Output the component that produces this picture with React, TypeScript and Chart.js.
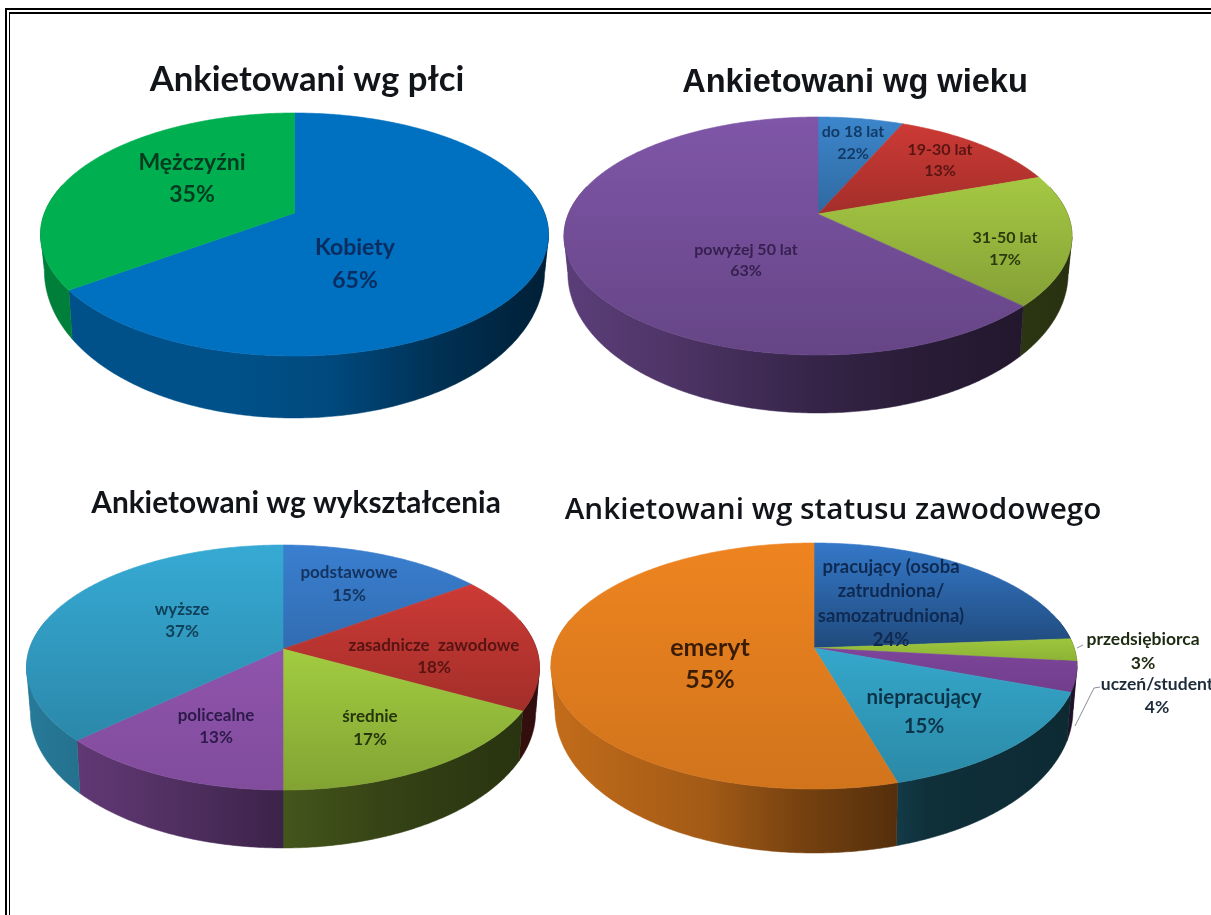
import React, { useEffect, useRef } from "react";
import { Chart, registerables } from "chart.js";

Chart.register(...registerables);

// ---------- data ----------
const genderNames = ["Kobiety", "Mężczyźni"];
const genderValues = [65, 35];
const genderLabels = ["65%", "35%"];
const genderColors = ["#0070C0", "#00B050"];

const ageNames = ["do 18 lat", "19-30 lat", "31-50 lat", "powyżej 50 lat"];
const ageValues = [6.5, 13, 17.8, 62.7]; // drawn slice sizes; the printed label of the first one says 22%
const ageLabels = ["22%", "13%", "17%", "63%"];
const ageColors = ["#3C86CC", "#CC3A35", "#A5C843", "#7F56A8"];

const eduNames = ["podstawowe", "zasadnicze  zawodowe", "średnie", "policealne", "wyższe"];
const eduValues = [15, 18, 17, 13, 37];
const eduLabels = ["15%", "18%", "17%", "13%", "37%"];
const eduColors = ["#3A7FD0", "#CC3A35", "#A2CC40", "#8F54AD", "#36AAD4"];

const jobNames = [
  "pracujący (osoba\nzatrudniona/\nsamozatrudniona)",
  "przedsiębiorca",
  "uczeń/student",
  "niepracujący",
  "emeryt",
];
const jobValues = [24, 3, 4, 15, 55];
const jobLabels = ["24%", "3%", "4%", "15%", "55%"];
const jobColors = ["#3478C8", "#9DC63C", "#7D459A", "#35A7CB", "#EE8420"];

const titles = [
  "Ankietowani wg płci",
  "Ankietowani wg wieku",
  "Ankietowani wg wykształcenia",
  "Ankietowani wg statusu zawodowego",
];

// ---------- layout and styling ----------
type Lbl = { x: number; y: number; lh: number; font: string; color: string };

const darkSide = [[0, 0.72], [0.2, 0.62], [0.5, 0.42], [0.7, 0.33], [1, 0.24]];
const blueSide = [[0, 0.72], [0.37, 0.72], [0.57, 0.65], [0.8, 0.42], [1, 0.28]];
const jobSide = [[0, 0.82], [0.3, 0.68], [0.47, 0.5], [0.65, 0.36], [0.72, 0.28], [1, 0.25]];

const charts = [
  {
    names: genderNames, values: genderValues, printed: genderLabels, colors: genderColors, title: titles[0],
    box: { left: 0, top: 20, width: 614, height: 430 },
    titleFont: { family: "Lato", weight: "bold", size: 34.7 }, titlePad: 39,
    geo: { cx: 294.5, cy: 213, far: 100, near: 143, rx: 254, d0: 30, d1: 32 },
    shade: [1, 1], side: blueSide,
    lbl: [
      { x: 355, y: 248, lh: 33, font: "bold 23px Lato", color: "#0A2C5E" },
      { x: 192, y: 163, lh: 32, font: "bold 23px Lato", color: "#053B1F" },
    ] as Lbl[],
  },
  {
    names: ageNames, values: ageValues, printed: ageLabels, colors: ageColors, title: titles[1],
    box: { left: 500, top: 20, width: 710, height: 430 },
    titleFont: { family: "Liberation Sans", weight: "bold", size: 32.6 }, titlePad: 43,
    geo: { cx: 818, cy: 214, far: 97, near: 141, rx: 254, d0: 32, d1: 26 },
    shade: [0.78, 0.8, 0.8, 0.8], side: darkSide,
    lbl: [
      { x: 853, y: 132, lh: 22, font: "bold 16px Lato", color: "#123A66" },
      { x: 940, y: 150, lh: 21, font: "bold 16px Lato", color: "#5A1512" },
      { x: 1005, y: 238, lh: 22, font: "bold 16px Lato", color: "#2B3A0C" },
      { x: 746, y: 250, lh: 21, font: "bold 16px Lato", color: "#35204F" },
    ] as Lbl[],
  },
  {
    names: eduNames, values: eduValues, printed: eduLabels, colors: eduColors, title: titles[2],
    box: { left: 0, top: 470, width: 592, height: 445 },
    titleFont: { family: "Lato", weight: "bold", size: 29.8 }, titlePad: 16,
    geo: { cx: 283, cy: 649, far: 104, near: 141, rx: 256.5, d0: 42, d1: 16 },
    shade: [0.85, 0.8, 0.8, 0.9, 0.8], side: darkSide,
    lbl: [
      { x: 349, y: 573, lh: 23, font: "bold 17px Lato", color: "#14335E" },
      { x: 434, y: 646, lh: 22, font: "bold 17px Lato", color: "#571412" },
      { x: 370, y: 717, lh: 23, font: "bold 17px Lato", color: "#26360B" },
      { x: 216, y: 716, lh: 22, font: "bold 17px Lato", color: "#2E1A4A" },
      { x: 182, y: 610, lh: 22, font: "bold 17px Lato", color: "#10405A" },
    ] as Lbl[],
  },
  {
    names: jobNames, values: jobValues, printed: jobLabels, colors: jobColors, title: titles[3],
    box: { left: 455, top: 470, width: 756, height: 445 },
    titleFont: { family: "Open Sans", weight: "600", size: 29.7 }, titlePad: 23,
    geo: { cx: 814, cy: 648, far: 105, near: 141, rx: 263, d0: 40, d1: 24 },
    shade: [0.62, 0.9, 0.9, 0.82, 0.88], side: jobSide,
    lbl: [
      { x: 891, y: 567, lh: 24.3, font: "bold 18.5px Lato", color: "#0F2A52" },
      { x: 1143, y: 639, lh: 24, font: "bold 17.5px Lato", color: "#1D2B12" },
      { x: 1157, y: 684, lh: 23, font: "bold 17.5px Lato", color: "#1D2B3A" },
      { x: 924, y: 697, lh: 29, font: "bold 20.5px Lato", color: "#0C3448" },
      { x: 710, y: 648, lh: 32, font: "bold 25px Lato", color: "#3A1C04" },
    ] as Lbl[],
    leaders: [
      [[1083, 645], [1077, 648]],
      [[1100, 687], [1094, 688], [1075, 726]],
    ],
  },
];

function mul(hex: string, m: number) {
  const n = parseInt(hex.slice(1), 16);
  const f = (c: number) => Math.max(0, Math.min(255, Math.round(c * m)));
  return `rgb(${f((n >> 16) & 255)},${f((n >> 8) & 255)},${f(n & 255)})`;
}

// Projects a slice angle from the Chart.js arc elements onto a tilted disc seen in perspective.
function projector(g: any, ox: number, oy: number) {
  const c = (g.far - g.near) / (g.far + g.near);
  const a = g.near * (1 + c);
  const yc = (g.near - g.far) / 2;
  const vc = yc / (a - c * yc);
  const k = (g.rx * (1 + c * vc)) / Math.sqrt(1 - vc * vc);
  const fn = (ang: number, depth: boolean) => {
    const u = Math.cos(ang);
    const v = Math.sin(ang);
    const den = 1 + c * v;
    const x = (k * u) / den;
    const y = (a * v) / den;
    if (!depth) return [g.cx + x - ox, g.cy + y - oy, v];
    return [g.cx + x * 0.985 - ox, g.cy + y + g.d0 + g.d1 * v - oy, v];
  };
  return { fn, vc };
}

const pie3d = {
  id: "pie3d",
  beforeDatasetsDraw(chart: any, _args: any, o: any) {
    const { ctx } = chart;
    const meta = chart.getDatasetMeta(0);
    const colors: string[] = chart.data.datasets[0].backgroundColor;
    const g = o.geo;
    const { fn: P, vc } = projector(g, o.box.left, o.box.top);
    const xL = g.cx - g.rx - o.box.left;
    const xR = g.cx + g.rx - o.box.left;

    ctx.save();
    ctx.lineJoin = "round";
    // side wall: a band per slice, cut where the rim turns round so each band keeps one winding
    meta.data.forEach((el: any, i: number) => {
      const span = el.endAngle - el.startAngle;
      const steps = Math.max(4, Math.ceil(span / 0.01));
      const groups: number[][] = [];
      let cur: number[] = [];
      let prevFront: boolean | null = null;
      for (let s = 0; s <= steps; s++) {
        const a = el.startAngle + (span * s) / steps;
        const sa = Math.sin(a);
        if (sa <= -0.25) {
          if (cur.length > 1) groups.push(cur);
          cur = [];
          prevFront = null;
          continue;
        }
        const front = sa >= vc;
        if (prevFront !== null && front !== prevFront) {
          cur.push(a);
          if (cur.length > 1) groups.push(cur);
          cur = [];
        }
        cur.push(a);
        prevFront = front;
      }
      if (cur.length > 1) groups.push(cur);
      const grad = ctx.createLinearGradient(xL, 0, xR, 0);
      o.side.forEach((s: number[]) => grad.addColorStop(s[0], mul(colors[i], s[1])));
      ctx.fillStyle = grad;
      ctx.strokeStyle = grad;
      ctx.lineWidth = 0.5;
      groups.forEach((angs) => {
        ctx.beginPath();
        angs.forEach((a, j) => {
          const p = P(a, false);
          if (j === 0) ctx.moveTo(p[0], p[1]);
          else ctx.lineTo(p[0], p[1]);
        });
        for (let j = angs.length - 1; j >= 0; j--) {
          const p = P(angs[j], true);
          ctx.lineTo(p[0], p[1]);
        }
        ctx.closePath();
        ctx.fill();
        ctx.stroke();
      });
    });
    // top face
    meta.data.forEach((el: any, i: number) => {
      const span = el.endAngle - el.startAngle;
      const steps = Math.max(4, Math.ceil(span / 0.01));
      const pts: number[][] = [];
      for (let s = 0; s <= steps; s++) pts.push(P(el.startAngle + (span * s) / steps, false));
      const cy = g.cy - o.box.top;
      const ys = pts.map((p) => p[1]).concat(cy);
      const grad = ctx.createLinearGradient(0, Math.min(...ys), 0, Math.max(...ys));
      const end = o.shade.length === colors.length ? o.shade[i] : 1;
      grad.addColorStop(0, mul(colors[i], 1));
      grad.addColorStop(1, mul(colors[i], end));
      ctx.fillStyle = grad;
      ctx.strokeStyle = grad;
      ctx.lineWidth = 0.6;
      ctx.beginPath();
      ctx.moveTo(g.cx - o.box.left, cy);
      pts.forEach((p) => ctx.lineTo(p[0], p[1]));
      ctx.closePath();
      ctx.fill();
      ctx.stroke();
    });
    ctx.restore();
    return false;
  },
  afterDraw(chart: any, _args: any, o: any) {
    const { ctx } = chart;
    ctx.save();
    ctx.textAlign = "center";
    ctx.textBaseline = "middle";
    const names: string[] = chart.data.labels;
    names.forEach((name, i) => {
      const l: Lbl = o.lbl[i];
      ctx.font = l.font;
      ctx.fillStyle = l.color;
      const lines = [...name.split("\n"), o.printed[i]];
      lines.forEach((t: string, j: number) =>
        ctx.fillText(t, l.x - o.box.left, l.y - o.box.top + j * l.lh)
      );
    });
    (o.leaders || []).forEach((path: number[][]) => {
      ctx.strokeStyle = "#8A8F94";
      ctx.lineWidth = 1;
      ctx.beginPath();
      path.forEach((p, j) => {
        if (j === 0) ctx.moveTo(p[0] - o.box.left, p[1] - o.box.top);
        else ctx.lineTo(p[0] - o.box.left, p[1] - o.box.top);
      });
      ctx.stroke();
    });
    ctx.restore();
  },
};

function PiePanel({ cfg }: { cfg: (typeof charts)[number] }) {
  const ref = useRef<HTMLCanvasElement | null>(null);
  useEffect(() => {
    const chart = new Chart(ref.current as HTMLCanvasElement, {
      type: "pie",
      data: {
        labels: cfg.names,
        datasets: [{ data: cfg.values, backgroundColor: cfg.colors, borderWidth: 0 }],
      },
      options: {
        animation: false,
        responsive: false,
        events: [],
        plugins: {
          legend: { display: false },
          tooltip: { enabled: false },
          title: {
            display: true,
            text: cfg.title,
            color: "#111418",
            font: cfg.titleFont as any,
            padding: { top: cfg.titlePad, bottom: 0 },
          },
          pie3d: {
            geo: cfg.geo,
            box: cfg.box,
            shade: cfg.shade,
            side: cfg.side,
            lbl: cfg.lbl,
            printed: cfg.printed,
            leaders: (cfg as any).leaders,
          },
        } as any,
      },
      plugins: [pie3d as any],
    });
    return () => chart.destroy();
  }, [cfg]);
  return (
    <canvas
      ref={ref}
      width={cfg.box.width}
      height={cfg.box.height}
      style={{
        position: "absolute",
        left: cfg.box.left,
        top: cfg.box.top,
        width: cfg.box.width,
        height: cfg.box.height,
        filter: "blur(0.45px)",
      }}
    />
  );
}

export default function App() {
  return (
    <div style={{ position: "fixed", inset: 0, background: "#fff", overflow: "hidden" }}>
      <div style={{ position: "absolute", left: 5, top: 8, right: -10, bottom: -10, borderLeft: "2px solid #000", borderTop: "2px solid #000" }} />
      <div style={{ position: "absolute", left: 9, top: 12, right: -10, bottom: -10, borderLeft: "1.5px solid #000", borderTop: "2px solid #000" }} />
      {charts.map((c, i) => (
        <PiePanel key={i} cfg={c} />
      ))}
    </div>
  );
}
